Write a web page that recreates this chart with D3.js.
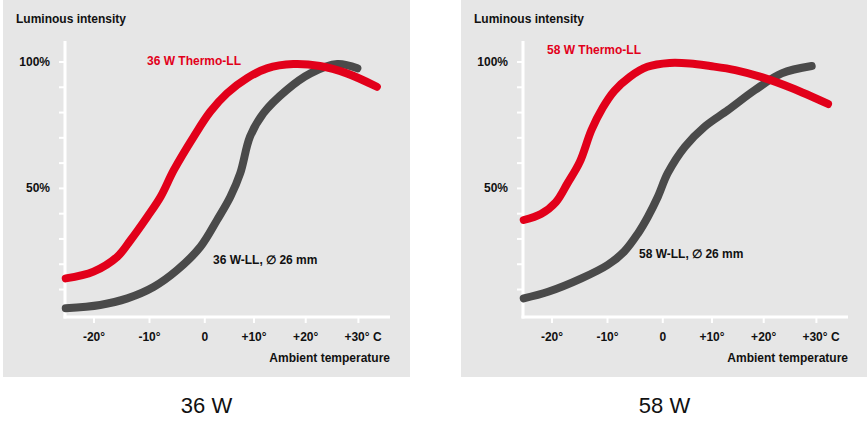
<!DOCTYPE html>
<html><head><meta charset="utf-8">
<script src="https://cdn.jsdelivr.net/npm/d3@7"></script>
<style>
html,body{margin:0;padding:0;background:#fff;}
svg{display:block;font-family:"Liberation Sans",Arial,sans-serif;}
</style></head>
<body>
<svg id="chart" width="867" height="447"></svg>
<script>
// ---- data ----
const panelTitles = ["36 W", "58 W"];
const yAxisTitle = "Luminous intensity";
const xAxisTitle = "Ambient temperature";
const tempTicks = [-20, -10, 0, 10, 20, 30];
const tempTickLabels = ["-20°", "-10°", "0", "+10°", "+20°", "+30° C"];
const pctTicks = [10, 20, 30, 40, 50, 60, 70, 80, 90, 100];
const pctLabelled = [50, 100];

const thermoNames = ["36 W Thermo-LL", "58 W Thermo-LL"];
const llNames = ["36 W-LL, \u2205 26 mm", "58 W-LL, \u2205 26 mm"];

const t36Thermo = [-25, -20, -15.7, -13.3, -10.3, -7.9, -5.5, -1.9, 1.2, 4.6, 8.7, 12.6, 17.7, 22.8, 27.9, 33.6];
const v36Thermo = [14.2, 16.9, 22.8, 29.4, 38.6, 46.5, 57.1, 70.3, 80.1, 87.4, 93.4, 97.3, 99.0, 98.2, 95.3, 90.0];
const t36LL = [-25, -18.8, -13.9, -9.1, -4.9, -0.7, 2.6, 5.3, 7.3, 9.3, 11.9, 16.4, 21.0, 26.1, 29.9];
const v36LL = [2.4, 3.7, 6.3, 10.9, 17.5, 26.7, 37.3, 46.5, 55.8, 70.3, 79.5, 88.7, 95.3, 99.0, 97.3];

const t58Thermo = [-25, -21.9, -19.2, -17.1, -14.9, -12.8, -10.8, -8.7, -5.9, -2.7, 1.5, 5.6, 9.7, 14.6, 19.7, 25.4, 32.3];
const v58Thermo = [37.3, 39.7, 44.4, 51.9, 60.3, 72.9, 81.6, 88.3, 93.9, 97.9, 99.4, 99.2, 98.2, 96.6, 93.8, 89.5, 83.2];
const t58LL = [-25, -20.6, -14.6, -9.9, -6.9, -4.4, -2.6, -0.8, 1.1, 4.6, 8.6, 13.2, 18.4, 23.5, 29.2];
const v58LL = [6.3, 8.9, 14.2, 19.5, 24.8, 32.0, 38.6, 46.5, 55.8, 66.3, 74.2, 80.8, 88.7, 95.3, 98.2];

// ---- layout ----
const RED = "#e2001a", DARK = "#4a4a4a", BG = "#e6e6e6", INK = "#111";
const FS = 12;
const panels = [
  { x: 3, thermo: [t36Thermo, v36Thermo], ll: [t36LL, v36LL],
    thermoLab: [144, 65], llLab: [210, 264] },
  { x: 461, thermo: [t58Thermo, v58Thermo], ll: [t58LL, v58LL],
    thermoLab: [86, 54], llLab: [178, 258] }
];
const axisX = 62, axisBottom = 317, axisTop = 41, axisRight = 387;

const svg = d3.select("#chart");

const y = d3.scaleLinear().domain([0, 100]).range([314.3, 61.5]);
const x = d3.scaleLinear().domain(tempTicks).range([90.5, 146, 201.3, 250.5, 302.2, 354.9]);

panels.forEach((p, i) => {
  const g = svg.append("g").attr("transform", `translate(${p.x},0)`);
  g.append("rect").attr("x", 0).attr("y", 0).attr("width", 407).attr("height", 377).attr("fill", BG);

  // axis lines
  g.append("line").attr("x1", axisX).attr("x2", axisX).attr("y1", axisTop).attr("y2", axisBottom + 1.5)
    .attr("stroke", "#fff").attr("stroke-width", 3);
  g.append("line").attr("x1", axisX - 1.5).attr("x2", axisRight).attr("y1", axisBottom).attr("y2", axisBottom)
    .attr("stroke", "#fff").attr("stroke-width", 3);

  // y axis ticks
  const yAx = g.append("g").attr("transform", `translate(${axisX},0)`)
    .call(d3.axisLeft(y).tickValues(pctTicks).tickSize(6).tickPadding(9)
      .tickFormat(d => pctLabelled.includes(d) ? d + "%" : ""));
  yAx.select(".domain").remove();
  yAx.selectAll(".tick line").attr("stroke", "#fff").attr("stroke-width", 2);
  yAx.selectAll(".tick text").attr("fill", INK).attr("font-size", FS).attr("font-weight", "bold")
    .attr("font-family", "'Liberation Sans',Arial,sans-serif");

  // x axis ticks
  const xAx = g.append("g").attr("transform", `translate(0,${axisBottom})`)
    .call(d3.axisBottom(x).tickValues(tempTicks).tickSize(6).tickPadding(9.5)
      .tickFormat((d, k) => tempTickLabels[k]));
  xAx.select(".domain").remove();
  xAx.selectAll(".tick line").attr("stroke", "#fff").attr("stroke-width", 2);
  xAx.selectAll(".tick text").attr("fill", INK).attr("font-size", FS).attr("font-weight", "bold")
    .attr("font-family", "'Liberation Sans',Arial,sans-serif");
  xAx.selectAll(".tick text").filter((d, k) => k === tempTicks.length - 1)
    .attr("text-anchor", "start").attr("x", -14);

  // titles
  g.append("text").attr("x", 13).attr("y", 22.5).text(yAxisTitle)
    .attr("font-size", FS).attr("font-weight", "bold").attr("fill", INK);
  g.append("text").attr("x", axisRight).attr("y", 362).attr("text-anchor", "end").text(xAxisTitle)
    .attr("font-size", FS).attr("font-weight", "bold").attr("fill", INK);

  // curves
  const line = d3.line().x(d => x(d[0])).y(d => y(d[1])).curve(d3.curveCatmullRom.alpha(0.5));
  const llData = p.ll[0].map((t, k) => [t, p.ll[1][k]]);
  const thData = p.thermo[0].map((t, k) => [t, p.thermo[1][k]]);
  g.append("path").datum(llData).attr("d", line).attr("fill", "none")
    .attr("stroke", DARK).attr("stroke-width", 8).attr("stroke-linecap", "round").attr("stroke-linejoin", "round");
  g.append("path").datum(thData).attr("d", line).attr("fill", "none")
    .attr("stroke", RED).attr("stroke-width", 8).attr("stroke-linecap", "round").attr("stroke-linejoin", "round");

  // series labels
  g.append("text").attr("x", p.thermoLab[0]).attr("y", p.thermoLab[1]).text(thermoNames[i])
    .attr("font-size", FS).attr("font-weight", "bold").attr("fill", RED);
  g.append("text").attr("x", p.llLab[0]).attr("y", p.llLab[1]).text(llNames[i])
    .attr("font-size", FS).attr("font-weight", "bold").attr("fill", INK);

  // panel caption
  g.append("text").attr("x", 203.5).attr("y", 413).attr("text-anchor", "middle").text(panelTitles[i])
    .attr("font-size", 22).attr("fill", INK);
});
</script>
</body></html>
